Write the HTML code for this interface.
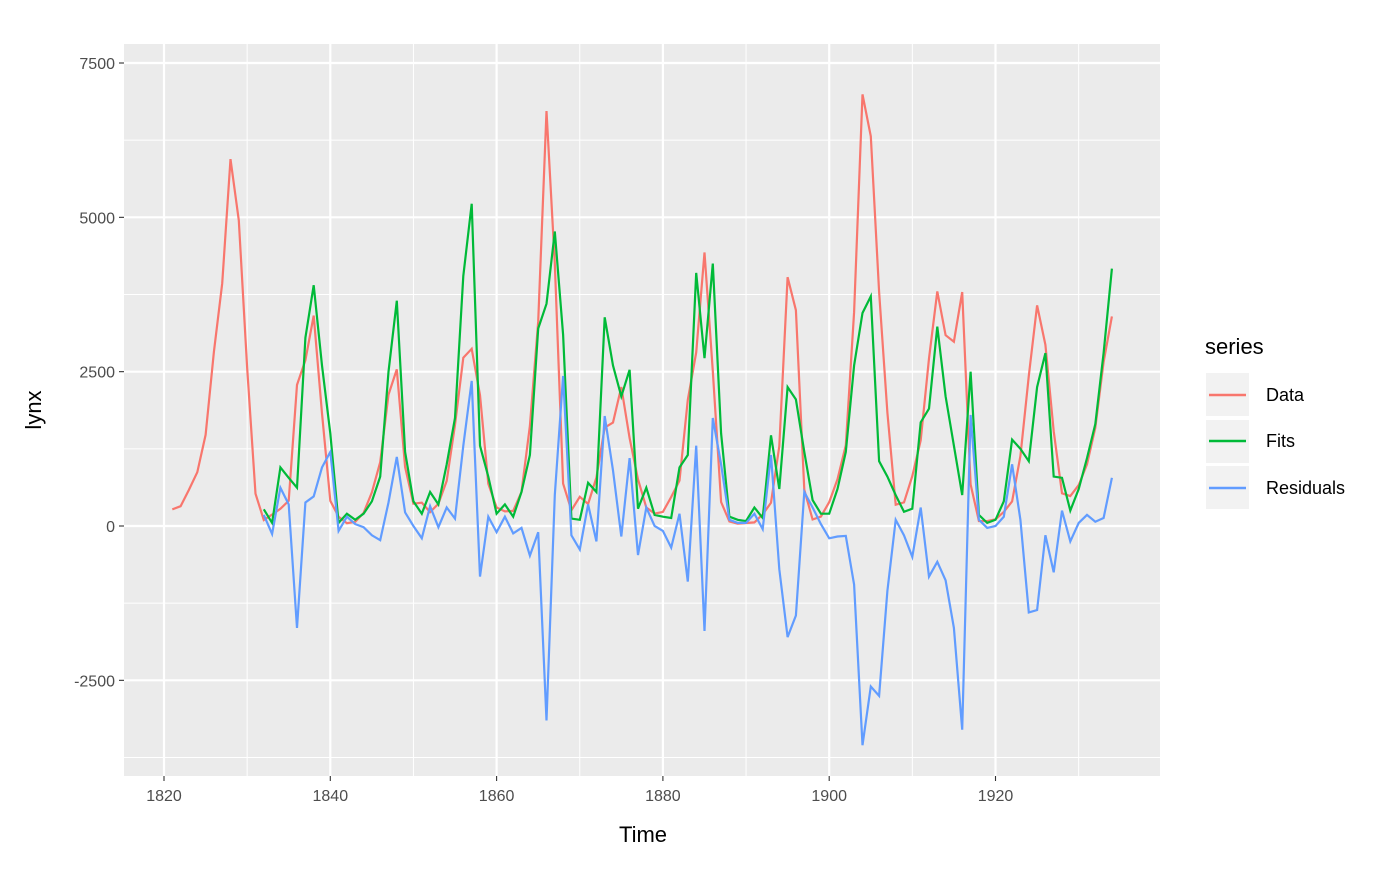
<!DOCTYPE html>
<html><head><meta charset="utf-8"><style>
body{margin:0;background:#fff;font-family:"Liberation Sans",sans-serif}
svg text{font-family:"Liberation Sans",sans-serif}
</style></head><body>
<svg id="chart" width="1400" height="866" xmlns="http://www.w3.org/2000/svg">
<rect x="124" y="44" width="1036" height="732" fill="#ebebeb"/>
<g id="grid"></g>
<g id="series"></g>
<g id="axes"></g>
<text x="643" y="842" font-size="22" text-anchor="middle" fill="#000">Time</text>
<text transform="translate(41,410) rotate(-90)" font-size="22" text-anchor="middle" fill="#000">lynx</text>
<g>
<text x="1205" y="354" font-size="22" fill="#000">series</text>
<g><rect x="1206" y="373" width="43" height="43" fill="#f2f2f2"/><line x1="1209" x2="1246" y1="395" y2="395" stroke="#F8766D" stroke-width="2.5"/><text x="1266" y="401" font-size="18">Data</text></g>
<g><rect x="1206" y="420" width="43" height="43" fill="#f2f2f2"/><line x1="1209" x2="1246" y1="441" y2="441" stroke="#00BA38" stroke-width="2.5"/><text x="1266" y="447" font-size="18">Fits</text></g>
<g><rect x="1206" y="466" width="43" height="43" fill="#f2f2f2"/><line x1="1209" x2="1246" y1="488" y2="488" stroke="#619CFF" stroke-width="2.5"/><text x="1266" y="494" font-size="18">Residuals</text></g>
</g>
</svg>
<script>
const dataStart = 1821;
const dataValues = [269,321,585,871,1475,2821,3928,5943,4950,2577,523,98,184,279,409,2285,2685,3409,1824,409,151,45,68,213,546,1033,2129,2536,957,361,377,225,360,731,1638,2725,2871,2119,684,299,236,245,552,1623,3311,6721,4254,687,255,473,358,784,1594,1676,2251,1426,756,299,201,229,469,736,2042,2811,4431,2511,389,73,39,49,59,188,377,1292,4031,3495,587,105,153,387,758,1307,3465,6991,6313,3794,1836,345,382,808,1388,2713,3800,3091,2985,3790,674,81,80,108,229,399,1132,2432,3574,2935,1537,529,485,662,1000,1590,2657,3396];
const fitStart = 1832;
const fitValues = [270,50,950,780,620,3050,3900,2600,1500,50,200,100,200,400,800,2500,3650,1200,400,200,550,350,1000,1750,4050,5220,1300,800,200,350,150,550,1150,3200,3600,4770,3100,120,100,700,550,3380,2600,2100,2530,280,620,180,150,130,950,1150,4100,2720,4250,1500,150,100,80,300,130,1470,600,2250,2050,1200,420,200,200,600,1200,2600,3450,3720,1050,800,500,230,280,1680,1900,3230,2100,1300,500,2500,180,50,100,400,1400,1250,1050,2250,2800,800,780,250,600,1100,1650,2800,4170];
const residualValues = [180,-130,620,350,-1650,380,480,950,1200,-80,150,30,-20,-150,-230,380,1120,220,0,-200,320,-20,300,120,1300,2350,-820,150,-100,150,-120,-30,-480,-100,-3150,500,2430,-150,-380,350,-250,1780,900,-170,1100,-470,300,0,-80,-350,200,-900,1300,-1700,1750,1000,100,50,50,200,-50,1150,-700,-1800,-1450,550,300,30,-200,-170,-160,-950,-3550,-2600,-2750,-1050,100,-150,-500,300,-820,-580,-880,-1650,-3300,1800,100,-30,0,150,1000,100,-1400,-1360,-150,-750,250,-250,50,180,70,130,780];
const xTicks = [1820,1840,1860,1880,1900,1920];
const yTicks = [-2500,0,2500,5000,7500];

const NS="http://www.w3.org/2000/svg";
const X = yr => 164 + (yr-1820)*8.315;
const Y = v => 526 - v*0.061733;
function mk(tag, attrs, parent){const e=document.createElementNS(NS,tag);for(const k in attrs)e.setAttribute(k,attrs[k]);parent.appendChild(e);return e;}
const grid=document.getElementById('grid'), axes=document.getElementById('axes'), ser=document.getElementById('series');
for(let i=0;i<xTicks.length;i++){
  const x=X(xTicks[i]);
  const g=mk('line',{x1:x,x2:x,y1:44,y2:776,stroke:'#fff','stroke-width':2.2},grid);
  
  
  if(i<xTicks.length-1){const xm=X(xTicks[i]+10);const m=mk('line',{x1:xm,x2:xm,y1:44,y2:776,stroke:'#fff','stroke-width':1},grid);
  
  }
  const t=mk('line',{x1:x,x2:x,y1:776,y2:781,stroke:'#333','stroke-width':1.1},axes);
  
  
  const l=mk('text',{x:x,y:801,'font-size':16,'text-anchor':'middle',fill:'#4d4d4d'},axes);l.textContent=xTicks[i];
  
  
}
{const xm=X(1930);const m=mk('line',{x1:xm,x2:xm,y1:44,y2:776,stroke:'#fff','stroke-width':1},grid);

}
for(let i=0;i<yTicks.length;i++){
  const y=Y(yTicks[i]);
  const g=mk('line',{x1:124,x2:1160,y1:y,y2:y,stroke:'#fff','stroke-width':2.2},grid);
  
  
  if(i<yTicks.length-1){const ym=Y(yTicks[i]+1250);const m=mk('line',{x1:124,x2:1160,y1:ym,y2:ym,stroke:'#fff','stroke-width':1},grid);
  
  }
  const t=mk('line',{x1:119,x2:124,y1:y,y2:y,stroke:'#333','stroke-width':1.1},axes);
  
  
  const l=mk('text',{x:115,y:y+6,'font-size':16,'text-anchor':'end',fill:'#4d4d4d'},axes);l.textContent=yTicks[i];
  
  
}
{const ym=Y(-3750);const m=mk('line',{x1:124,x2:1160,y1:ym,y2:ym,stroke:'#fff','stroke-width':1},grid);

}
function path(start, vals){return vals.map((v,i)=>(i?'L':'M')+X(start+i).toFixed(1)+','+Y(v).toFixed(1)).join('');}
const pd=mk('path',{d:path(dataStart,dataValues),fill:'none',stroke:'#F8766D','stroke-width':2.2},ser);


const pf=mk('path',{d:path(fitStart,fitValues),fill:'none',stroke:'#00BA38','stroke-width':2.2},ser);


const pr=mk('path',{d:path(fitStart,residualValues),fill:'none',stroke:'#619CFF','stroke-width':2.2},ser);


</script>
</body></html>
